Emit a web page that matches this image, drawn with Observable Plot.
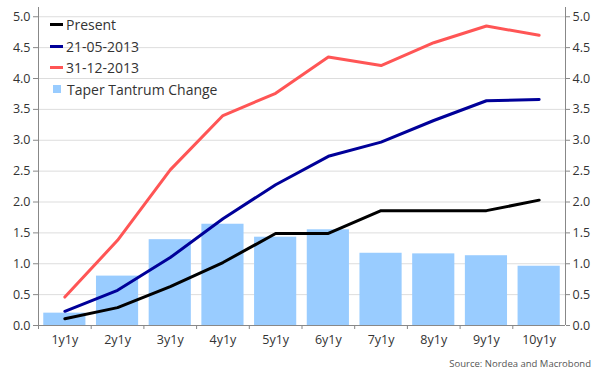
<!DOCTYPE html>
<html>
<head>
<meta charset="utf-8">
<script src="https://cdn.jsdelivr.net/npm/d3@7"></script>
<script src="https://cdn.jsdelivr.net/npm/@observablehq/plot@0.6"></script>
<style>
  body { margin: 0; background: #fff; font-family: "Open Sans", sans-serif; }
  #wrap { position: relative; width: 602px; height: 380px; }
  #legend { position: absolute; left: 50px; top: 14px; font-size: 14px; color: #333; line-height: 21.5px; }
  .item { display: flex; align-items: center; height: 21.5px; }
  .ln { width: 13px; height: 3px; margin-right: 3px; }
  .sq { width: 8px; height: 8px; margin: 0 6px 0 3px; }
  #caption { position: absolute; right: 11px; top: 357px; font-size: 9.5px; color: #555; }
</style>
</head>
<body>
<div id="wrap">
  <div id="chart"></div>
  <div id="legend"></div>
  <div id="caption">Source: Nordea and Macrobond</div>
</div>
<script>
const categories = ["1y1y","2y1y","3y1y","4y1y","5y1y","6y1y","7y1y","8y1y","9y1y","10y1y"];
const present    = [0.11, 0.29, 0.63, 1.02, 1.49, 1.49, 1.86, 1.86, 1.86, 2.03];
const may2013    = [0.23, 0.57, 1.10, 1.73, 2.28, 2.74, 2.97, 3.32, 3.64, 3.66];
const dec2013    = [0.46, 1.38, 2.52, 3.40, 3.76, 4.35, 4.21, 4.58, 4.85, 4.70];
const taperChange= [0.20, 0.80, 1.39, 1.64, 1.43, 1.55, 1.17, 1.16, 1.13, 0.96];
const yTicks = [0, 0.5, 1.0, 1.5, 2.0, 2.5, 3.0, 3.5, 4.0, 4.5, 5.0];

const seriesNames = ["Present", "21-05-2013", "31-12-2013"];
const seriesColors = ["#000000", "#000099", "#ff5555"];
const barName = "Taper Tantrum Change";
const barColor = "#99ccff";

const W = 602, H = 350;
const mL = 38, mR = 37, mT = 7, mB = 25;
const pInner = 0.2, pOuter = 0.1;
const step = (W - mL - mR) / (categories.length - pInner + 2 * pOuter);

const bars = categories.map((c, i) => ({cat: c, value: taperChange[i]}));
const lines = [];
[present, may2013, dec2013].forEach((arr, s) => {
  categories.forEach((c, i) => lines.push({cat: c, value: arr[i], series: seriesNames[s]}));
});

const chart = Plot.plot({
  width: W, height: H,
  marginLeft: mL, marginRight: mR, marginTop: mT, marginBottom: mB,
  style: {fontFamily: "Open Sans, sans-serif", fontSize: "12.5px", color: "#333", background: "#fff"},
  x: {domain: categories, paddingInner: pInner, paddingOuter: pOuter, round: false, label: null},
  y: {domain: [0, 5.15], label: null},
  color: {domain: seriesNames, range: seriesColors},
  marks: [
    Plot.gridY(yTicks, {stroke: "#dddddd", strokeOpacity: 1}),
    Plot.barY(bars, {x: "cat", y: "value", fill: barColor}),
    Plot.line(lines, {x: "cat", y: "value", z: "series", stroke: "series", strokeWidth: 3, strokeLinejoin: "round", curve: "linear"}),
    Plot.ruleY([0], {stroke: "#888"}),
    Plot.ruleX([categories[0]], {dx: -step / 2, y1: 0, y2: 5.15, stroke: "#888"}),
    Plot.ruleX([categories[categories.length - 1]], {dx: step / 2, y1: 0, y2: 5.15, stroke: "#888"}),
    Plot.axisY({anchor: "left", ticks: yTicks, tickFormat: d3.format(".1f"), tickSize: 5, tickPadding: 3, stroke: "#888", fill: "#333", label: null}),
    Plot.axisY({anchor: "right", ticks: yTicks, tickFormat: d3.format(".1f"), tickSize: 4, tickPadding: 3, stroke: "#888", fill: "#333", label: null}),
    Plot.axisX({ticks: categories, tickSize: 4, dx: -step / 2, tickFormat: () => "", stroke: "#888", label: null}),
    Plot.axisX({ticks: categories, tickSize: 0, tickPadding: 10, fill: "#333", label: null})
  ]
});
document.getElementById("chart").appendChild(chart);

const legend = document.getElementById("legend");
seriesNames.forEach((n, i) => {
  const d = document.createElement("div");
  d.className = "item";
  d.innerHTML = `<span class="ln" style="background:${seriesColors[i]}"></span><span>${n}</span>`;
  legend.appendChild(d);
});
const b = document.createElement("div");
b.className = "item";
b.innerHTML = `<span class="sq" style="background:${barColor}"></span><span>${barName}</span>`;
legend.appendChild(b);
</script>
</body>
</html>
